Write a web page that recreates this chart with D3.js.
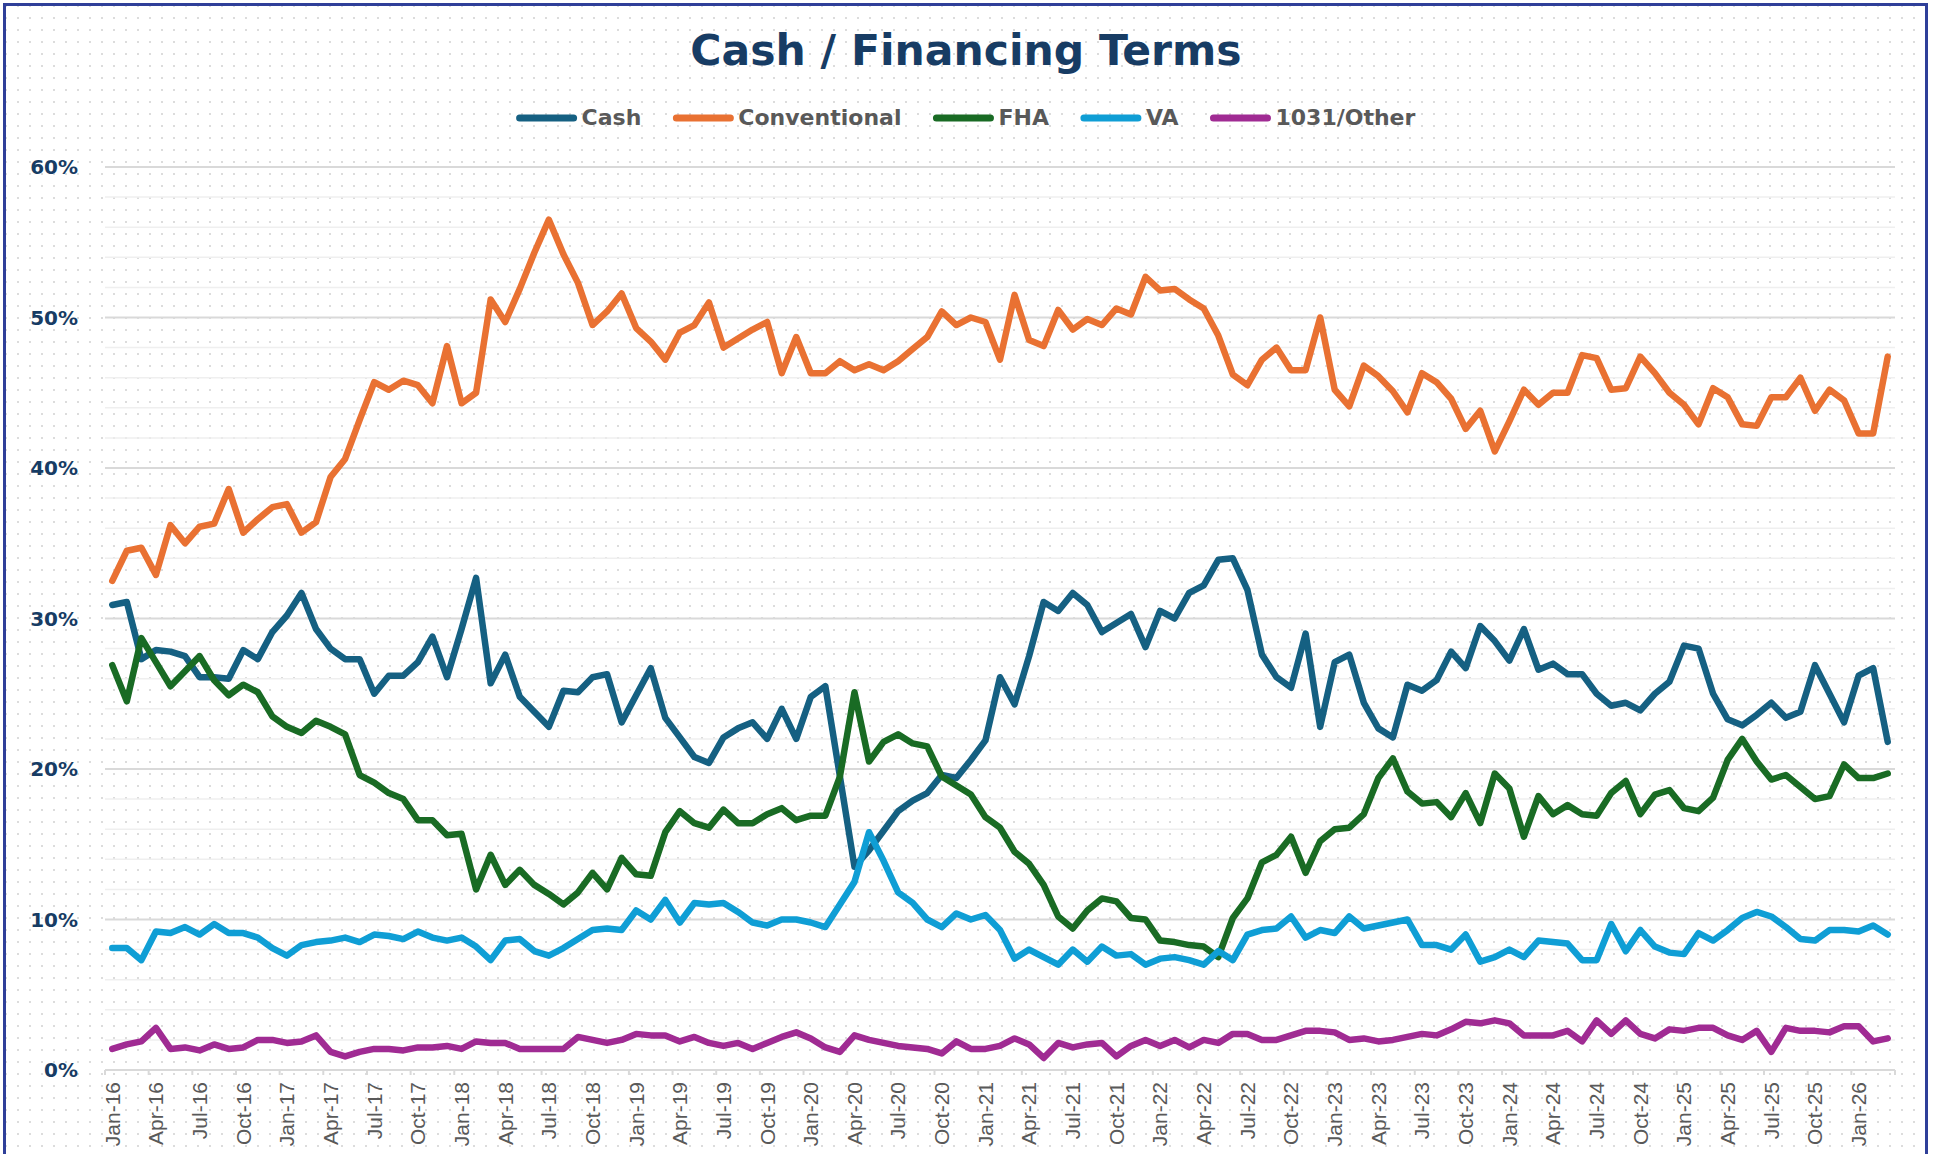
<!DOCTYPE html>
<html>
<head>
<meta charset="utf-8">
<script src="https://cdn.jsdelivr.net/npm/d3@7"></script>
<style>
  html, body { margin: 0; padding: 0; background: #fff; }
  svg { display: block; }
</style>
</head>
<body>
<svg id="chart" width="1935" height="1154"></svg>
<script>
// monthly categories Jan-16 .. Mar-26
const monthNames = ["Jan","Feb","Mar","Apr","May","Jun","Jul","Aug","Sep","Oct","Nov","Dec"]
const firstYear = 16
const monthCount = 123

const cash = [30.9,31.1,27.3,27.9,27.8,27.5,26.1,26.1,26.0,27.9,27.3,29.1,
  30.2,31.7,29.3,28.0,27.3,27.3,25.0,26.2,26.2,27.1,28.8,26.1,
  29.3,32.7,25.7,27.6,24.8,23.8,22.8,25.2,25.1,26.1,26.3,23.1,
  24.9,26.7,23.4,22.1,20.8,20.4,22.1,22.7,23.1,22.0,24.0,22.0,
  24.8,25.5,19.5,13.5,14.6,15.9,17.2,17.9,18.4,19.6,19.4,20.6,
  21.9,26.1,24.3,27.5,31.1,30.5,31.7,30.9,29.1,29.7,30.3,28.1,
  30.5,30.0,31.7,32.2,33.9,34.0,31.9,27.6,26.1,25.4,29.0,22.8,
  27.1,27.6,24.4,22.7,22.1,25.6,25.2,25.9,27.8,26.7,29.5,28.5,
  27.2,29.3,26.6,27.0,26.3,26.3,25.0,24.2,24.4,23.9,25.0,25.8,
  28.2,28.0,25.0,23.3,22.9,23.6,24.4,23.4,23.8,26.9,25.0,23.1,
  26.2,26.7,21.8]

const conventional = [32.5,34.5,34.7,32.9,36.2,35.0,36.1,36.3,38.6,35.7,36.6,37.4,
  37.6,35.7,36.4,39.4,40.6,43.2,45.7,45.2,45.8,45.5,44.3,48.1,
  44.3,45.0,51.2,49.7,51.9,54.3,56.5,54.2,52.3,49.5,50.4,51.6,
  49.3,48.4,47.2,49.0,49.5,51.0,48.0,48.6,49.2,49.7,46.3,48.7,
  46.3,46.3,47.1,46.5,46.9,46.5,47.1,47.9,48.7,50.4,49.5,50.0,
  49.7,47.2,51.5,48.5,48.1,50.5,49.2,49.9,49.5,50.6,50.2,52.7,
  51.8,51.9,51.2,50.6,48.8,46.2,45.5,47.2,48.0,46.5,46.5,50.0,
  45.2,44.1,46.8,46.1,45.1,43.7,46.3,45.7,44.6,42.6,43.8,41.1,
  43.1,45.2,44.2,45.0,45.0,47.5,47.3,45.2,45.3,47.4,46.3,45.0,
  44.2,42.9,45.3,44.7,42.9,42.8,44.7,44.7,46.0,43.8,45.2,44.5,
  42.3,42.3,47.4]

const fha = [26.9,24.5,28.7,27.1,25.5,26.5,27.5,25.9,24.9,25.6,25.1,23.5,
  22.8,22.4,23.2,22.8,22.3,19.6,19.1,18.4,18.0,16.6,16.6,15.6,
  15.7,12.0,14.3,12.3,13.3,12.3,11.7,11.0,11.8,13.1,12.0,14.1,
  13.0,12.9,15.8,17.2,16.4,16.1,17.3,16.4,16.4,17.0,17.4,16.6,
  16.9,16.9,19.5,25.1,20.5,21.8,22.3,21.7,21.5,19.5,18.9,18.3,
  16.8,16.1,14.5,13.7,12.3,10.2,9.4,10.6,11.4,11.2,10.1,10.0,
  8.6,8.5,8.3,8.2,7.5,10.1,11.4,13.8,14.3,15.5,13.1,15.2,
  16.0,16.1,17.0,19.4,20.7,18.5,17.7,17.8,16.8,18.4,16.4,19.7,
  18.7,15.5,18.2,17.0,17.6,17.0,16.9,18.4,19.2,17.0,18.3,18.6,
  17.4,17.2,18.1,20.6,22.0,20.5,19.3,19.6,18.8,18.0,18.2,20.3,
  19.4,19.4,19.7]

const va = [8.1,8.1,7.3,9.2,9.1,9.5,9.0,9.7,9.1,9.1,8.8,8.1,
  7.6,8.3,8.5,8.6,8.8,8.5,9.0,8.9,8.7,9.2,8.8,8.6,
  8.8,8.2,7.3,8.6,8.7,7.9,7.6,8.1,8.7,9.3,9.4,9.3,
  10.6,10.0,11.3,9.8,11.1,11.0,11.1,10.5,9.8,9.6,10.0,10.0,
  9.8,9.5,11.0,12.5,15.8,13.9,11.8,11.1,10.0,9.5,10.4,10.0,
  10.3,9.3,7.4,8.0,7.5,7.0,8.0,7.2,8.2,7.6,7.7,7.0,
  7.4,7.5,7.3,7.0,7.9,7.3,9.0,9.3,9.4,10.2,8.8,9.3,
  9.1,10.2,9.4,9.6,9.8,10.0,8.3,8.3,8.0,9.0,7.2,7.5,
  8.0,7.5,8.6,8.5,8.4,7.3,7.3,9.7,7.9,9.3,8.2,7.8,
  7.7,9.1,8.6,9.3,10.1,10.5,10.2,9.5,8.7,8.6,9.3,9.3,
  9.2,9.6,9.0]

const other = [1.4,1.7,1.9,2.8,1.4,1.5,1.3,1.7,1.4,1.5,2.0,2.0,
  1.8,1.9,2.3,1.2,0.9,1.2,1.4,1.4,1.3,1.5,1.5,1.6,
  1.4,1.9,1.8,1.8,1.4,1.4,1.4,1.4,2.2,2.0,1.8,2.0,
  2.4,2.3,2.3,1.9,2.2,1.8,1.6,1.8,1.4,1.8,2.2,2.5,
  2.1,1.5,1.2,2.3,2.0,1.8,1.6,1.5,1.4,1.1,1.9,1.4,
  1.4,1.6,2.1,1.7,0.8,1.8,1.5,1.7,1.8,0.9,1.6,2.0,
  1.6,2.0,1.5,2.0,1.8,2.4,2.4,2.0,2.0,2.3,2.6,2.6,
  2.5,2.0,2.1,1.9,2.0,2.2,2.4,2.3,2.7,3.2,3.1,3.3,
  3.1,2.3,2.3,2.3,2.6,1.9,3.3,2.4,3.3,2.4,2.1,2.7,
  2.6,2.8,2.8,2.3,2.0,2.6,1.2,2.8,2.6,2.6,2.5,2.9,
  2.9,1.9,2.1]

const seriesNames = ["Cash", "Conventional", "FHA", "VA", "1031/Other"]
const seriesColors = ["#156082", "#e97132", "#196b24", "#0f9ed5", "#a02b93"]
const yTicks = [0, 10, 20, 30, 40, 50, 60]

const categories = d3.range(monthCount).map(i =>
  monthNames[i % 12] + "-" + (firstYear + Math.floor(i / 12)))
const allSeries = [cash, conventional, fha, va, other]

const W = 1935, H = 1154
const plot = { left: 105, right: 1895, top: 167, bottom: 1070 }
const navy = "#173c64"

const svg = d3.select("#chart")

// background with light dot grid
const defs = svg.append("defs")
const pat = defs.append("pattern")
  .attr("id", "dots")
  .attr("width", 12).attr("height", 12)
  .attr("patternUnits", "userSpaceOnUse")
pat.append("rect").attr("x", 5).attr("y", 5).attr("width", 2).attr("height", 2).attr("fill", "#dcdcdc")

svg.append("rect").attr("width", W).attr("height", H).attr("fill", "#fff")
svg.append("rect").attr("x", 5).attr("y", 5).attr("width", 1920).attr("height", 1160).attr("fill", "url(#dots)")

const x = d3.scaleBand()
  .domain(categories)
  .range([plot.left, plot.right])
  .padding(0)

const y = d3.scaleLinear()
  .domain([0, 60])
  .range([plot.bottom, plot.top])

// minor gridlines every 2%, major every 10%
const minor = d3.range(2, 60, 2).filter(v => v % 10 !== 0)
svg.append("g").selectAll("line")
  .data(minor)
  .enter().append("line")
  .attr("x1", plot.left).attr("x2", plot.right)
  .attr("y1", d => y(d)).attr("y2", d => y(d))
  .attr("stroke", "#efefef")
  .attr("stroke-width", 1.5)

svg.append("g").selectAll("line")
  .data(yTicks.filter(v => v > 0))
  .enter().append("line")
  .attr("x1", plot.left).attr("x2", plot.right)
  .attr("y1", d => y(d)).attr("y2", d => y(d))
  .attr("stroke", "#d9d9d9")
  .attr("stroke-width", 2)

// y axis labels
svg.append("g").selectAll("text")
  .data(yTicks)
  .enter().append("text")
  .attr("x", 78)
  .attr("y", d => y(d))
  .attr("dy", "0.36em")
  .attr("text-anchor", "end")
  .attr("font-family", "DejaVu Sans")
  .attr("font-weight", "bold")
  .attr("font-size", 20)
  .attr("fill", navy)
  .text(d => d + "%")

// x axis line + ticks at quarter boundaries
const xAxis = svg.append("g")
xAxis.append("line")
  .attr("x1", plot.left).attr("x2", plot.right)
  .attr("y1", plot.bottom).attr("y2", plot.bottom)
  .attr("stroke", "#d9d9d9")
  .attr("stroke-width", 2)

const quarterCats = categories.filter((c, i) => i % 3 === 0)
const tickXs = quarterCats.map(c => x(c)).concat([plot.right])
xAxis.selectAll(".tick")
  .data(tickXs)
  .enter().append("line")
  .attr("class", "tick")
  .attr("x1", d => d).attr("x2", d => d)
  .attr("y1", plot.bottom).attr("y2", plot.bottom + 5)
  .attr("stroke", "#d9d9d9")
  .attr("stroke-width", 2)

xAxis.selectAll(".lbl")
  .data(quarterCats)
  .enter().append("text")
  .attr("class", "lbl")
  .attr("transform", d => "translate(" + (x(d) + x.bandwidth() / 2) + "," + (plot.bottom + 12) + ") rotate(-90)")
  .attr("dy", "0.35em")
  .attr("text-anchor", "end")
  .attr("font-family", "Liberation Sans")
  .attr("font-size", 21)
  .attr("fill", "#595959")
  .text(d => d)

// lines
const line = d3.line()
  .x((d, i) => x(categories[i]) + x.bandwidth() / 2)
  .y(d => y(d))

svg.append("g").selectAll("path")
  .data(allSeries)
  .enter().append("path")
  .attr("d", d => line(d))
  .attr("fill", "none")
  .attr("stroke", (d, i) => seriesColors[i])
  .attr("stroke-width", 6.5)
  .attr("stroke-linejoin", "round")
  .attr("stroke-linecap", "round")

// title
svg.append("text")
  .attr("x", 966)
  .attr("y", 65)
  .attr("text-anchor", "middle")
  .attr("font-family", "DejaVu Sans")
  .attr("font-weight", "bold")
  .attr("font-size", 42.5)
  .attr("fill", navy)
  .text("Cash / Financing Terms")

// legend, centred under the title
const legend = svg.append("g")
const items = legend.selectAll("g")
  .data(seriesNames)
  .enter().append("g")
items.append("line")
  .attr("x1", 3).attr("x2", 57)
  .attr("y1", 118).attr("y2", 118)
  .attr("stroke", (d, i) => seriesColors[i])
  .attr("stroke-width", 7)
  .attr("stroke-linecap", "round")
items.append("text")
  .attr("x", 65)
  .attr("y", 125)
  .attr("font-family", "DejaVu Sans")
  .attr("font-weight", "bold")
  .attr("font-size", 22)
  .attr("fill", "#595959")
  .text(d => d)

let offs = []
let total = 0
items.each(function(d, i) {
  const w = 65 + this.querySelector("text").getComputedTextLength()
  offs.push(total)
  total += w + (i < seriesNames.length - 1 ? 32 : 0)
})
const startX = 966 - total / 2
items.attr("transform", (d, i) => "translate(" + (startX + offs[i]) + ",0)")

// chart frame
svg.append("rect")
  .attr("x", 4.5).attr("y", 4.5)
  .attr("width", 1922).attr("height", 1170)
  .attr("fill", "none")
  .attr("stroke", "#2f3f99")
  .attr("stroke-width", 3)
</script>
</body>
</html>
